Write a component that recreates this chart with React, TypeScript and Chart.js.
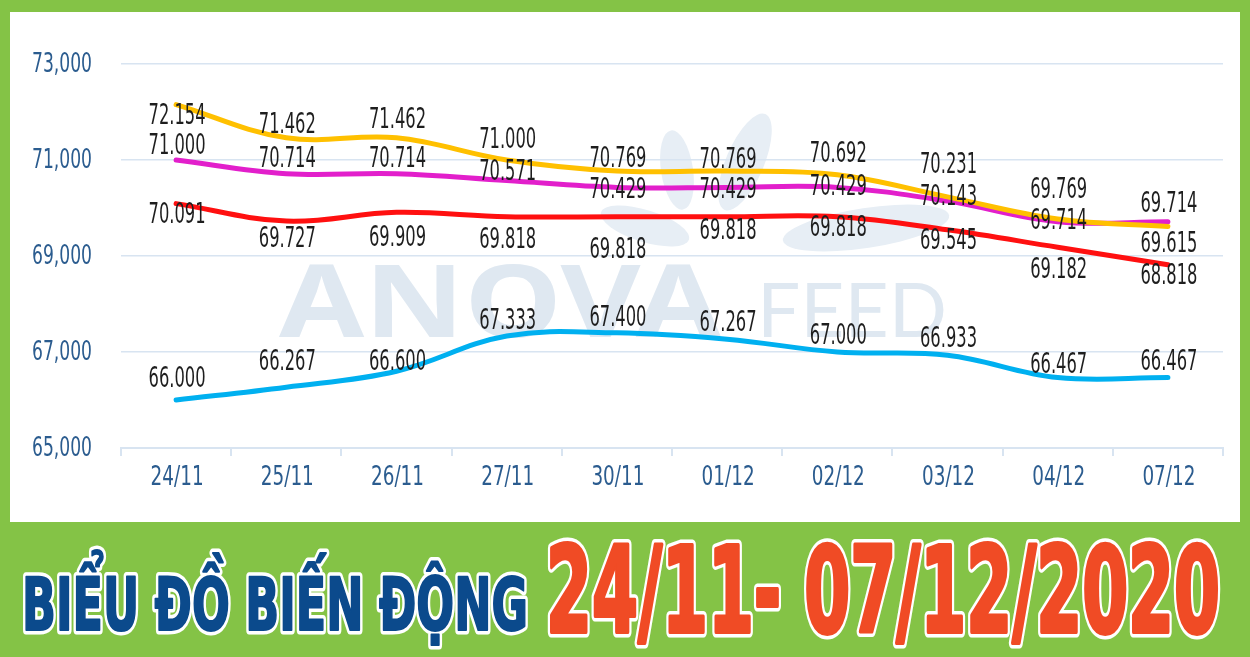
import { useEffect, useRef } from "react";
import { Chart, registerables } from "chart.js";

Chart.register(...registerables);

// ---- data ----
const categories = ["24/11", "25/11", "26/11", "27/11", "30/11", "01/12", "02/12", "03/12", "04/12", "07/12"];
const yellowValues = [72154, 71462, 71462, 71000, 70769, 70769, 70692, 70231, 69769, 69615];
const magentaValues = [71000, 70714, 70714, 70571, 70429, 70429, 70429, 70143, 69714, 69714];
const redValues = [70091, 69727, 69909, 69818, 69818, 69818, 69818, 69545, 69182, 68818];
const blueValues = [66000, 66267, 66600, 67333, 67400, 67267, 67000, 66933, 66467, 66467];
const yMin = 65000;
const yMax = 73000;
const yStep = 2000;
const titleText = "BIỂU ĐỒ BIẾN ĐỘNG";
const dateText = "24/11- 07/12/2020";

// ---- label placement (style: vertical offset of each value label from its point, px) ----
const yellowLabelDy = [12, -12, -17, -20, -12, -11, -20, -31, -29, 18];
const magentaLabelDy = [-14, -14, -14, -8, 3, 3, 0, -4, 0, -17];
const redLabelDy = [12, 18, 26, 24, 34, 15, 12, 12, 23, 12];
const blueLabelDy = [-21, -25, -9, -15, -14, -16, -16, -16, -12, -15];

const NARROW = '"Liberation Sans Narrow", "DejaVu Sans Condensed", "Noto Sans", sans-serif';
const AXIS_COLOR = "#2B5C8F";
const GRID_COLOR = "#D8E4F1";

function fmtDot(v: number) {
  const s = String(Math.round(v));
  return s.slice(0, s.length - 3) + "." + s.slice(s.length - 3);
}

function drawFitted(ctx: CanvasRenderingContext2D, text: string, x: number, baseline: number, width: number, font: string, color: string, stroke: number, thicken: number) {
  ctx.save();
  ctx.font = font;
  const w = ctx.measureText(text).width;
  ctx.translate(x, baseline);
  ctx.scale(width / w, 1);
  ctx.textAlign = "left";
  ctx.textBaseline = "alphabetic";
  ctx.lineJoin = "round";
  ctx.strokeStyle = "#ffffff";
  ctx.lineWidth = stroke + thicken;
  ctx.strokeText(text, 0, 0);
  ctx.strokeStyle = color;
  ctx.lineWidth = thicken;
  ctx.strokeText(text, 0, 0);
  ctx.fillStyle = color;
  ctx.fillText(text, 0, 0);
  ctx.restore();
}

const backgroundPlugin = {
  id: "backgroundPlugin",
  beforeDraw(chart: any) {
    const ctx: CanvasRenderingContext2D = chart.ctx;
    ctx.save();
    ctx.fillStyle = "#84C346";
    ctx.fillRect(0, 0, chart.width, chart.height);
    ctx.fillStyle = "#ffffff";
    ctx.fillRect(10, 12, 1230, 510);

    // watermark leaves
    ctx.fillStyle = "#E7EEF5";
    const leaves = [
      [677, 170, 16, 40, -0.15],
      [745, 162, 19, 52, 0.4],
      [866, 228, 84, 20, -0.15],
      [645, 226, 46, 16, 0.3],
    ];
    for (const [cx, cy, rx, ry, rot] of leaves) {
      ctx.beginPath();
      ctx.ellipse(cx, cy, rx, ry, rot, 0, Math.PI * 2);
      ctx.fill();
    }
    // watermark text
    ctx.fillStyle = "#DFE8F1";
    ctx.textBaseline = "alphabetic";
    ctx.textAlign = "left";
    ctx.save();
    ctx.font = 'bold 100px "Noto Sans", "DejaVu Sans", sans-serif';
    let w = ctx.measureText("ANOVA").width;
    ctx.translate(279, 337);
    ctx.scale(442 / w, 1);
    ctx.fillText("ANOVA", 0, 0);
    ctx.restore();
    ctx.save();
    ctx.font = '76px "Lato", "Noto Sans", sans-serif';
    w = ctx.measureText("FEED").width;
    ctx.translate(757, 337);
    ctx.scale(190 / w, 1);
    ctx.fillText("FEED", 0, 0);
    ctx.restore();

    // banner
    drawFitted(ctx, titleText, 22, 630, 506, "bold 73px " + NARROW, "#0B4A8C", 7, 2);
    drawFitted(ctx, dateText, 546, 632, 674, "bold 119px " + NARROW, "#F04B25", 7, 4);
    ctx.restore();
  },
};

// draws the scales' own tick labels with a condensed horizontal scale
const axisLabelPlugin = {
  id: "axisLabelPlugin",
  afterDraw(chart: any) {
    const ctx: CanvasRenderingContext2D = chart.ctx;
    ctx.save();
    ctx.font = "26px " + NARROW;
    const sy = 60 / ctx.measureText("73,000").width;
    const sxx = 53 / ctx.measureText("24/11").width;
    ctx.fillStyle = AXIS_COLOR;
    ctx.textBaseline = "middle";
    const ys = chart.scales.y;
    ys.ticks.forEach((t: any, i: number) => {
      const y = ys.getPixelForTick(i);
      const label = Number(t.value).toLocaleString("en-US");
      ctx.save();
      ctx.translate(92, y + 1);
      ctx.scale(sy, 1);
      ctx.textAlign = "right";
      ctx.fillText(label, 0, 0);
      ctx.restore();
    });
    const xs = chart.scales.x;
    xs.ticks.forEach((t: any, i: number) => {
      const x = xs.getPixelForTick(i);
      const label = chart.data.labels[t.value];
      ctx.save();
      ctx.translate(x + 1, 478);
      ctx.scale(sxx, 1);
      ctx.textAlign = "center";
      ctx.fillText(label, 0, 0);
      ctx.restore();
    });
    ctx.restore();
  },
};

const valueLabelPlugin = {
  id: "valueLabelPlugin",
  afterDatasetsDraw(chart: any) {
    const ctx: CanvasRenderingContext2D = chart.ctx;
    ctx.save();
    ctx.font = "29px " + NARROW;
    const ref = ctx.measureText("72.154").width;
    const sx = 57 / ref;
    ctx.fillStyle = "#1E1E1E";
    ctx.textAlign = "center";
    ctx.textBaseline = "middle";
    chart.data.datasets.forEach((ds: any, di: number) => {
      const meta = chart.getDatasetMeta(di);
      const offs: number[] = ds.labelDy || [];
      meta.data.forEach((pt: any, i: number) => {
        const text = fmtDot(ds.data[i]);
        ctx.save();
        ctx.translate(pt.x + 1, pt.y + (offs[i] || 0));
        ctx.scale(sx, 1);
        ctx.fillText(text, 0, 0);
        ctx.restore();
      });
    });
    ctx.restore();
  },
};

export default function App() {
  const ref = useRef<HTMLCanvasElement | null>(null);

  useEffect(() => {
    if (!ref.current) return;
    const lineDs = (data: number[], color: string, labelDy: number[]) => ({
      data,
      borderColor: color,
      backgroundColor: color,
      borderWidth: 5,
      pointRadius: 0,
      pointHoverRadius: 0,
      tension: 0.38,
      borderCapStyle: "round",
      borderJoinStyle: "round",
      fill: false,
      labelDy,
    });
    const chart = new Chart(ref.current, {
      type: "line",
      data: {
        labels: categories,
        datasets: [
          lineDs(yellowValues, "#FFC000", yellowLabelDy),
          lineDs(magentaValues, "#E21FCB", magentaLabelDy),
          lineDs(redValues, "#FF1010", redLabelDy),
          lineDs(blueValues, "#00B0F0", blueLabelDy),
        ] as any,
      },
      options: {
        animation: false,
        responsive: false,
        devicePixelRatio: 1,
        layout: { padding: { left: 21, right: 27, top: 64, bottom: 149 } },
        plugins: {
          legend: { display: false },
          tooltip: { enabled: false },
          title: { display: false },
        },
        scales: {
          x: {
            type: "category",
            offset: true,
            grid: {
              display: true,
              drawOnChartArea: false,
              drawTicks: true,
              tickLength: 8,
              offset: true,
              color: GRID_COLOR,
              lineWidth: 2,
            },
            border: { display: true, color: GRID_COLOR, width: 2 },
            ticks: {
              font: { family: NARROW, size: 20 },
              color: "rgba(0,0,0,0)",
              padding: 8,
              maxRotation: 0,
              autoSkip: false,
            },
            afterFit: (s: any) => {
              s.height = 60;
            },
          },
          y: {
            min: yMin,
            max: yMax,
            grid: { color: GRID_COLOR, lineWidth: 1.5, drawTicks: false },
            border: { display: false },
            ticks: {
              stepSize: yStep,
              font: { family: NARROW, size: 20 },
              color: "rgba(0,0,0,0)",
              padding: 29,
              callback: (v: any) => Number(v).toLocaleString("en-US"),
            },
            afterFit: (s: any) => {
              s.width = 100;
            },
          },
        },
      } as any,
      plugins: [backgroundPlugin, valueLabelPlugin, axisLabelPlugin],
    });
    return () => chart.destroy();
  }, []);

  return (
    <div style={{ position: "fixed", left: 0, top: 0, width: 1250, height: 657 }}>
      <canvas ref={ref} width={1250} height={657} style={{ display: "block", width: 1250, height: 657 }} />
    </div>
  );
}
